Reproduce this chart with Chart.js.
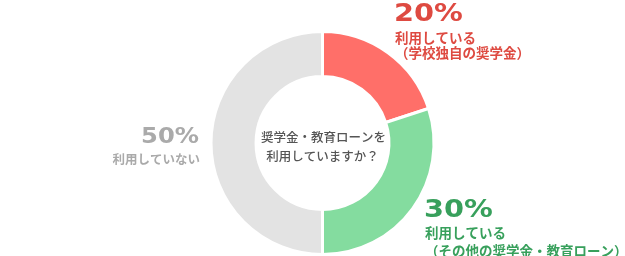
<!DOCTYPE html>
<html lang="ja">
<head>
<meta charset="utf-8">
<script src="https://cdn.jsdelivr.net/npm/chart.js@4/dist/chart.umd.min.js"></script>
<style>
  html, body { margin: 0; padding: 0; background: #ffffff; }
  #wrap { width: 625px; height: 256px; }
</style>
</head>
<body>
<div id="wrap"><canvas id="chart" width="625" height="256"></canvas></div>
<script>
// 奨学金・教育ローンの利用状況
const categories = [
  ['利用している', '（学校独自の奨学金）'],
  ['利用している', '（その他の奨学金・教育ローン）'],
  ['利用していない']
];
const shares = [20, 30, 50];
const question = ['奨学金・教育ローンを', '利用していますか？'];

const fills = [
  ['#ff8a82', '#ff6f69'],
  ['#a4eabc', '#84dc9f'],
  ['#e6e6e6', '#e3e3e3']
];
const textColors = ['#de4a41', '#38a05c', '#aaaaaa'];

function ringGradient(ctx, i) {
  const chart = ctx.chart;
  const meta = chart.getDatasetMeta(0);
  const arc = meta.data[i];
  if (!arc || !arc.outerRadius) return fills[i][1];
  const g = chart.ctx.createRadialGradient(arc.x, arc.y, arc.innerRadius, arc.x, arc.y, arc.outerRadius);
  g.addColorStop(0, fills[i][0]);
  g.addColorStop(1, fills[i][1]);
  return g;
}

// 各区分のラベルと中央の設問文
const labelPlugin = {
  id: 'ringLabels',
  afterDraw(chart) {
    const c = chart.ctx;
    const jp = '"Noto Sans CJK JP", "Noto Sans", sans-serif';
    const num = '"DejaVu Sans", sans-serif';

    function pct(text, x, y, size, sx, color, align) {
      c.save();
      c.font = 'bold ' + size + 'px ' + num;
      c.fillStyle = color;
      c.textBaseline = 'alphabetic';
      c.textAlign = 'left';
      const w = c.measureText(text).width * sx;
      const left = align === 'right' ? x - w : x;
      c.translate(left, y);
      c.scale(sx, 1);
      c.fillText(text, 0, 0);
      c.restore();
    }
    function line(text, x, y, size, weight, color, align) {
      c.save();
      c.font = weight + ' ' + size + 'px ' + jp;
      c.fillStyle = color;
      c.textBaseline = 'middle';
      c.textAlign = align;
      c.fillText(text, x, y);
      c.restore();
    }

    // 学校独自の奨学金
    pct(shares[0] + '%', 394, 21, 25, 1.15, textColors[0], 'left');
    line(categories[0][0], 395, 38, 13.5, 'bold', textColors[0], 'left');
    line(categories[0][1], 395, 53, 13.5, 'bold', textColors[0], 'left');

    // その他の奨学金・教育ローン
    pct(shares[1] + '%', 424, 217, 25, 1.15, textColors[1], 'left');
    line(categories[1][0], 425, 232.5, 13.5, 'bold', textColors[1], 'left');
    line(categories[1][1], 425, 250.5, 13.5, 'bold', textColors[1], 'left');

    // 利用していない
    pct(shares[2] + '%', 199, 143, 22, 1.1, textColors[2], 'right');
    line(categories[2][0], 200, 159.5, 12.5, 'bold', textColors[2], 'right');

    // 中央の設問
    const arc = chart.getDatasetMeta(0).data[0];
    line(question[0], arc.x + 1, 137.5, 12.5, '500', '#555555', 'center');
    line(question[1], arc.x, 156.5, 12.5, '500', '#555555', 'center');
  }
};

new Chart(document.getElementById('chart'), {
  type: 'doughnut',
  data: {
    labels: categories.map(l => l.join('')),
    datasets: [{
      data: shares,
      backgroundColor: ctx => ringGradient(ctx, ctx.dataIndex),
      borderColor: '#ffffff',
      borderWidth: 3,
      hoverOffset: 0
    }]
  },
  options: {
    responsive: false,
    animation: false,
    radius: 111.5,
    cutout: '59.6%',
    layout: { padding: { left: 20, right: 0, top: 30, bottom: 0 } },
    plugins: {
      legend: { display: false },
      tooltip: { enabled: false }
    }
  },
  plugins: [labelPlugin]
});
</script>
</body>
</html>
